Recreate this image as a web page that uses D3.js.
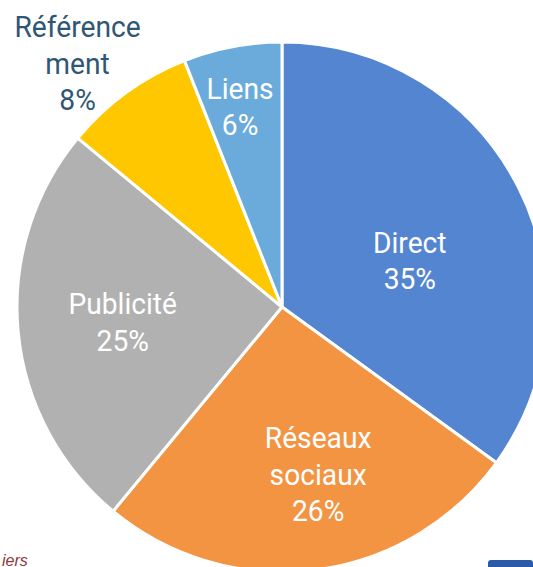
<!DOCTYPE html>
<html>
<head>
<meta charset="utf-8">
<script src="https://cdn.jsdelivr.net/npm/d3@7"></script>
<style>
  html, body { margin: 0; padding: 0; background: #fff; }
  svg { display: block; }
</style>
</head>
<body>
<div id="chart"></div>
<script>
// data
const categories = ["Direct", "Réseaux sociaux", "Publicité", "Référencement", "Liens"];
const values = [35, 26, 25, 8, 6];
const labelLines = [["Direct"], ["Réseaux", "sociaux"], ["Publicité"], ["Référence", "ment"], ["Liens"]];
const colors = ["#5485d1", "#f29442", "#b1b1b1", "#fec700", "#6aabdb"];

const width = 533;
const height = 567;
const radius = 265;
const cx = 282, cy = 307;

// label placement (radius, angle shift in degrees), like the office chart
const labelRadius = [136, 171, 160, 318, 205];
const labelShift = [7, -5, 0, -4, -1];

const svg = d3.select("#chart")
  .append("svg")
  .attr("width", width)
  .attr("height", height);

const g = svg.append("g")
  .attr("transform", `translate(${cx},${cy})`);

const data = categories.map((c, i) => ({ name: c, value: values[i], i }));

const pie = d3.pie()
  .sort(null)
  .value(d => d.value);

const arc = d3.arc()
  .innerRadius(0)
  .outerRadius(radius);

const arcs = g.selectAll(".slice")
  .data(pie(data))
  .enter()
  .append("g")
  .attr("class", "slice");

arcs.append("path")
  .attr("d", arc)
  .attr("fill", d => colors[d.data.i])
  .attr("stroke", "#fff")
  .attr("stroke-width", 3)
  .attr("stroke-linejoin", "round");

const lineH = 36.5;
const labels = arcs.append("text")
  .attr("transform", d => {
    const a = (d.startAngle + d.endAngle) / 2 + labelShift[d.data.i] * Math.PI / 180;
    const r = labelRadius[d.data.i];
    return `translate(${r * Math.sin(a)},${-r * Math.cos(a)}) scale(0.94,1)`;
  })
  .attr("text-anchor", "middle")
  .attr("font-family", "Roboto, 'Noto Sans', sans-serif")
  .attr("font-size", "30px")
  .style("fill", d => d.data.i === 3 ? "#2f5774" : "#fff");

labels.each(function(d) {
  const lines = labelLines[d.data.i].concat([d.data.value + "%"]);
  const t = d3.select(this);
  const top = -(lines.length - 1) * lineH / 2;
  lines.forEach((l, k) => {
    t.append("tspan")
      .attr("x", 0)
      .attr("y", top + k * lineH)
      .attr("dy", "0.35em")
      .text(l);
  });
});

// cropped slide remnants along bottom edge
svg.append("text")
  .attr("x", 2)
  .attr("y", 566)
  .attr("font-family", "'Liberation Sans', sans-serif")
  .attr("font-style", "italic")
  .attr("font-size", "16px")
  .style("fill", "#8a3a40")
  .text("iers");

svg.append("rect")
  .attr("x", 488)
  .attr("y", 560)
  .attr("width", 45)
  .attr("height", 10)
  .attr("rx", 3)
  .attr("fill", "#2a5aa8");
</script>
</body>
</html>
